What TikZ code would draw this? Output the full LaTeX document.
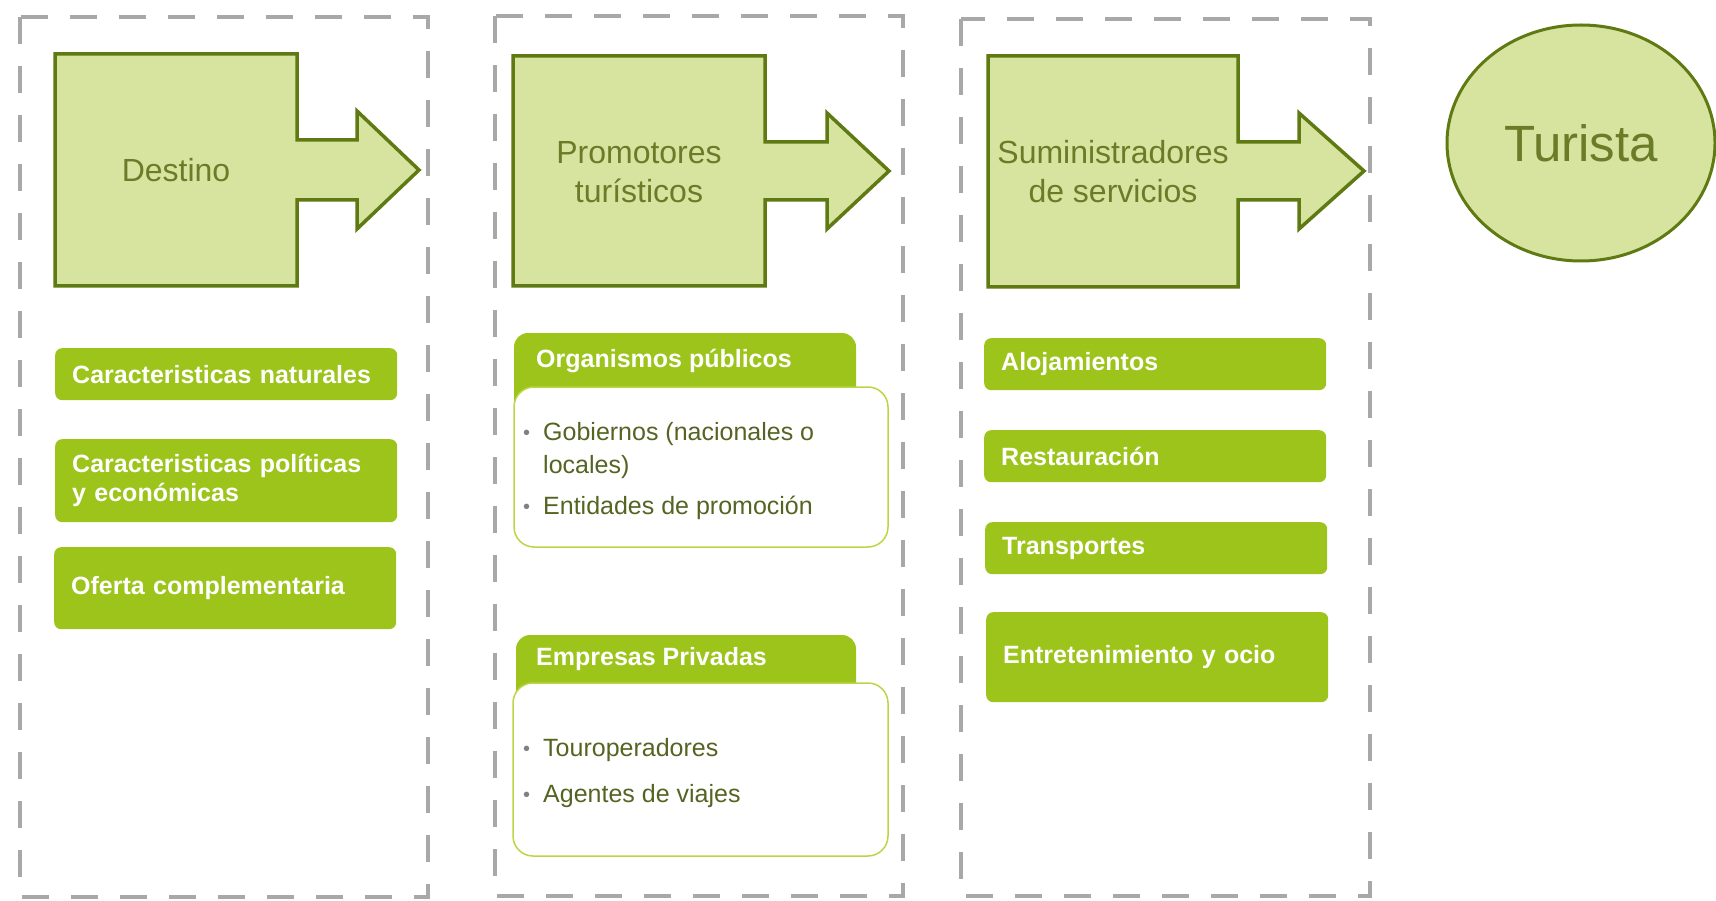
\documentclass[tikz,border=0pt]{standalone}
\usepackage{fontspec}
\setmainfont{Liberation Sans}
\usepackage{xcolor}
\usepackage{tikz}
\usetikzlibrary{shapes.geometric, positioning}
\definecolor{grisborde}{RGB}{168,168,168}
\definecolor{verdeclaro}{RGB}{215,228,160}
\definecolor{verdeoscuro}{RGB}{95,122,18}
\definecolor{verdetexto}{RGB}{106,124,40}
\definecolor{verdehoja}{RGB}{156,196,26}
\definecolor{verdelinea}{RGB}{186,214,70}
\definecolor{olivatexto}{RGB}{85,100,35}
\newcommand{\vineta}{\makebox[20pt][l]{\textcolor{gray}{\fontsize{20}{20}\selectfont\raisebox{1pt}{•}}}}

\begin{document}
\begin{tikzpicture}[x=1pt, y=-1pt,
    marco/.style={draw=grisborde, line width=4.5pt, dash pattern=on 27pt off 22pt},
    bloque/.style={draw=verdeoscuro, fill=verdeclaro, line width=3.5pt, line join=miter},
    titulo/.style={text=verdetexto, font=\fontsize{32}{39}\selectfont, align=center},
    etiqueta/.style={fill=verdehoja, rounded corners=7pt, text=white, font=\bfseries\fontsize{25}{29}\selectfont,
        anchor=north west, inner xsep=17pt, inner ysep=0pt, text width=308pt, align=left, minimum height=52pt},
    pestana/.style={fill=verdehoja, rounded corners=14pt},
    caja/.style={fill=white, draw=verdelinea, line width=1.5pt, rounded corners=20pt},
    cabecera/.style={text=white, font=\bfseries\fontsize{25}{29}\selectfont, anchor=base west, inner sep=0pt},
    lineaitem/.style={text=olivatexto, font=\fontsize{25}{29}\selectfont, anchor=base west, inner sep=0pt}]
    \useasboundingbox (0,0) rectangle (1716,901);
    % Marcos discontinuos
    \draw[marco] (20,17) rectangle (428,897);
    \draw[marco] (495,16) rectangle (903,896);
    \draw[marco] (961,19) rectangle (1370,896);
    % Destino
    \draw[bloque] (55,54) -- (297,54) -- (297,140) -- (357,140) -- (357,111) -- (419,170) -- (357,229) -- (357,200) -- (297,200) -- (297,286) -- (55,286) -- cycle;
    \node[titulo] (destino) at (176,170) {Destino};
    % Promotores turisticos
    \draw[bloque] (513,56) -- (765,56) -- (765,142) -- (827,142) -- (827,113) -- (889,171) -- (827,229) -- (827,200) -- (765,200) -- (765,286) -- (513,286) -- cycle;
    \node[titulo] (promotores) at (639,172) {Promotores\\turísticos};
    % Suministradores de servicios
    \draw[bloque] (988,56) -- (1238,56) -- (1238,142) -- (1299,142) -- (1299,113) -- (1364,171) -- (1299,229) -- (1299,200) -- (1238,200) -- (1238,287) -- (988,287) -- cycle;
    \node[titulo] (suministradores) at (1113,172) {Suministradores\\de servicios};
    % Turista
    \node[ellipse, draw=verdeoscuro, fill=verdeclaro, line width=3pt, minimum width=268pt, minimum height=236pt,
        text=verdetexto, font=\fontsize{51}{60}\selectfont] (turista) at (1581,143) {Turista};
    % Columna del destino
    \node[etiqueta] (naturales) at (55,348) {Caracteristicas naturales};
    \node[etiqueta, minimum height=83pt] (politicas) at (55,439) {Caracteristicas políticas\\y económicas};
    \node[etiqueta, minimum height=82pt] (oferta) at (54,547) {Oferta complementaria};
    % Organismos publicos
    \fill[pestana] (514,333) rectangle (856,430);
    \node[cabecera] (organismos) at (536,367) {Organismos públicos};
    \draw[caja] (514,387) rectangle (888,547);
    \node[lineaitem] (gobiernos) at (523,440) {\vineta Gobiernos (nacionales o};
    \node[lineaitem] (locales) at (543,473) {locales)};
    \node[lineaitem] (entidades) at (523,514) {\vineta Entidades de promoción};
    % Empresas privadas
    \fill[pestana] (516,635) rectangle (856,730);
    \node[cabecera] (empresas) at (536,665) {Empresas Privadas};
    \draw[caja] (513,683) rectangle (888,856);
    \node[lineaitem] (touroperadores) at (523,756) {\vineta Touroperadores};
    \node[lineaitem] (agentes) at (523,802) {\vineta Agentes de viajes};
    % Columna de servicios
    \node[etiqueta] (alojamientos) at (984,338) {Alojamientos};
    \node[etiqueta] (restauracion) at (984,430) {Restauración};
    \node[etiqueta] (transportes) at (985,522) {Transportes};
    \node[etiqueta, minimum height=90pt] (entretenimiento) at (986,612) {Entretenimiento y ocio};
\end{tikzpicture}
\end{document}
